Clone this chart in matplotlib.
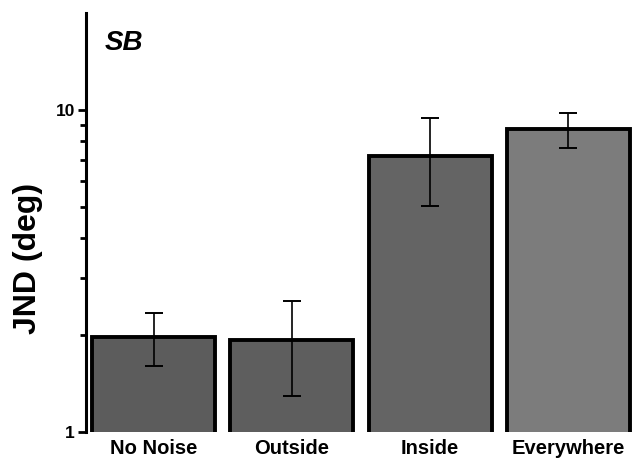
import matplotlib.pyplot as plt
from matplotlib.ticker import FixedLocator, NullFormatter

plt.rcParams['font.family'] = ['Liberation Sans', 'DejaVu Sans']

conditions = ['No Noise', 'Outside', 'Inside', 'Everywhere']
jnd = [1.97, 1.93, 7.2, 8.7]
err_low = [1.60, 1.29, 5.03, 7.62]
err_high = [2.34, 2.55, 9.44, 9.78]
bar_colors = ['#5c5c5c', '#5e5e5e', '#646464', '#7c7c7c']

fig = plt.figure(figsize=(6.32, 4.66), dpi=100)
ax = fig.add_axes([0.136, 0.073, 0.864, 0.899])

x = range(len(conditions))
lower = [v - lo for v, lo in zip(jnd, err_low)]
upper = [hi - v for v, hi in zip(jnd, err_high)]
ax.bar(x, jnd, width=0.89, bottom=0, color=bar_colors, edgecolor='black', linewidth=2.8, zorder=2)
ax.errorbar(x, jnd, yerr=[lower, upper], fmt='none', ecolor='black',
            elinewidth=1.2, capsize=6.5, capthick=1.4, zorder=3)

ax.set_yscale('log')
ax.set_ylim(1, 20)
ax.set_xlim(-0.49, 3.46)
ax.yaxis.set_major_locator(FixedLocator([1, 10]))
ax.set_yticklabels(['1', '10'], fontweight='bold', fontsize=12.5)
ax.yaxis.set_minor_locator(FixedLocator([2, 3, 4, 5, 6, 7, 8, 9]))
ax.yaxis.set_minor_formatter(NullFormatter())
ax.tick_params(axis='y', which='major', length=6, width=2, pad=2)
ax.tick_params(axis='y', which='minor', length=4, width=2)

ax.set_xticks(list(x))
ax.set_xticklabels(conditions, fontweight='bold', fontsize=14.5)
ax.tick_params(axis='x', length=0, pad=5)

for side in ['top', 'right', 'bottom']:
    ax.spines[side].set_visible(False)
ax.spines['left'].set_linewidth(2.2)

ax.set_ylabel('JND (deg)', fontweight='bold', fontsize=23)
ax.yaxis.set_label_coords(-0.079, 0.415)
ax.text(0.035, 0.96, 'SB', transform=ax.transAxes, fontsize=20,
        fontweight='bold', fontstyle='italic', va='top', ha='left')

fig.savefig('out.png', dpi=100)
